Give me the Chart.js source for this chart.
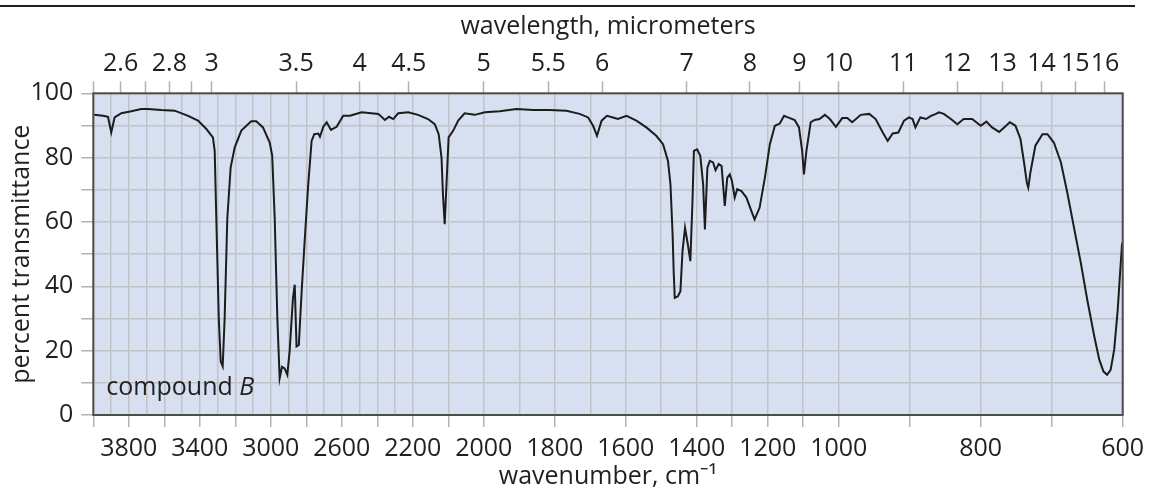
<!DOCTYPE html>
<html>
<head>
<meta charset="utf-8">
<script src="https://cdn.jsdelivr.net/npm/chart.js@4"></script>
<style>
  html, body { margin: 0; padding: 0; background: #ffffff; }
  #wrap { position: relative; width: 1151px; height: 495px; }
</style>
</head>
<body>
<div id="wrap"><canvas id="c" width="1151" height="495"></canvas></div>
<script>
// ---------- data ----------
const wavenumbers = [
  3995, 3945, 3917, 3899, 3880, 3842, 3786, 3730, 3692, 3617, 3541, 3466, 3410, 3363, 3326, 3316,
  3307, 3293, 3282, 3271, 3260, 3245, 3226, 3203, 3166, 3110, 3082, 3044, 3006, 2992, 2978, 2963,
  2950, 2937, 2922, 2907, 2894, 2875, 2865, 2855, 2842, 2826, 2807, 2789, 2770, 2755, 2732, 2723,
  2704, 2685, 2661, 2629, 2592, 2554, 2488, 2394, 2357, 2334, 2310, 2282, 2226, 2185, 2157, 2138,
  2127, 2119, 2115, 2110, 2105, 2099, 2086, 2072, 2054, 2025, 1997, 1955, 1908, 1861, 1814, 1767,
  1730, 1706, 1692, 1681, 1668, 1653, 1636, 1622, 1598, 1570, 1542, 1514, 1495, 1481, 1474, 1468,
  1465, 1462, 1453, 1446, 1440, 1433, 1425, 1418, 1412, 1408, 1399, 1390, 1382, 1377, 1370, 1363,
  1354, 1347, 1338, 1330, 1321, 1314, 1307, 1301, 1293, 1286, 1274, 1260, 1246, 1237, 1223, 1208,
  1194, 1180, 1166, 1154, 1143, 1124, 1112, 1103, 1098, 1091, 1079, 1068, 1054, 1039, 1025, 1008,
  995, 988, 981, 969, 957, 948, 938, 931, 924, 916, 908, 901, 896, 892, 885, 877,
  870, 863, 859, 852, 842, 833, 824, 812, 800, 792, 784, 774, 767, 759, 751, 744,
  739, 735, 733, 730, 723, 713, 706, 697, 687, 678, 669, 659, 650, 640, 633, 627,
  622, 617, 612, 607, 604, 601, 600
];
const transmittance = [
  93.3, 93.0, 92.7, 87.8, 92.5, 93.8, 94.4, 95.1, 95.1, 94.8, 94.6, 93.0, 91.5, 88.9, 86.3, 82.1,
  61.3, 30.0, 16.6, 15.1, 30.0, 61.0, 77.0, 83.2, 88.4, 91.3, 91.3, 89.4, 84.7, 80.6, 61.3, 30.0,
  11.4, 15.0, 14.5, 12.5, 19.7, 36.4, 40.5, 21.3, 21.8, 38.5, 56.0, 71.7, 85.2, 87.3, 87.5, 86.5,
  89.6, 91.0, 88.6, 89.6, 93.0, 93.0, 94.1, 93.6, 91.7, 92.7, 92.0, 93.8, 94.1, 93.3, 92.0, 90.4,
  87.3, 80.0, 68.6, 59.3, 71.7, 86.3, 88.4, 91.5, 93.8, 93.3, 94.1, 94.4, 95.1, 94.8, 94.8, 94.6,
  93.6, 92.5, 89.9, 86.8, 91.5, 93.0, 92.5, 92.0, 93.0, 91.5, 89.4, 86.8, 84.2, 79.0, 71.7, 56.1,
  44.7, 36.4, 36.9, 38.5, 51.0, 58.2, 53.0, 47.8, 66.5, 82.1, 82.6, 80.6, 71.7, 57.7, 76.9, 79.0,
  78.5, 76.1, 78.0, 77.4, 65.0, 73.8, 74.8, 72.8, 67.6, 70.2, 69.6, 67.6, 63.4, 60.8, 64.4, 73.8,
  84.2, 89.9, 90.6, 93.0, 92.5, 91.7, 89.4, 82.1, 74.8, 82.1, 91.0, 91.7, 92.0, 93.3, 92.0, 89.6,
  92.3, 92.3, 91.0, 93.3, 93.6, 92.0, 87.8, 85.2, 87.5, 87.8, 91.5, 92.5, 92.0, 89.4, 92.5, 92.0,
  93.0, 93.6, 94.1, 93.6, 92.0, 90.4, 92.0, 92.0, 89.9, 91.2, 89.4, 88.0, 89.4, 91.0, 89.9, 85.8,
  78.5, 72.2, 70.7, 75.4, 83.7, 87.3, 87.3, 84.7, 78.5, 69.1, 58.7, 47.3, 35.9, 24.4, 17.2, 13.5,
  12.5, 14.0, 20.3, 32.7, 43.1, 53.0, 53.6
];

// bottom axis: grid lines, tick marks and labelled ticks (cm^-1)
const wavenumberGridLines = [
  4000, 3900, 3800, 3700, 3600, 3500, 3400, 3300, 3200, 3100, 3000, 2900, 2800, 2700, 2600, 2500,
  2400, 2300, 2200, 2100, 2000, 1900, 1800, 1700, 1600, 1500, 1400, 1300, 1200, 1100, 1000, 900,
  800, 700, 600
];
const wavenumberTickMarks = [4000, 3800, 3600, 3400, 3200, 3000, 2800, 2600, 2400, 2200, 2100, 2000,
  1800, 1600, 1400, 1300, 1200, 1100, 1000, 900, 800, 700, 600];
const wavenumberTickLabels = [3800, 3400, 3000, 2600, 2200, 2000, 1800, 1600, 1400, 1200, 1000, 800, 600];

// top axis: wavelength in micrometers
const wavelengthTicks = [2.5, 2.6, 2.7, 2.8, 2.9, 3, 3.5, 4, 4.5, 5, 5.5, 6, 7, 8, 9, 10, 11, 12, 13, 14, 15, 16];
const wavelengthTickLabels = ['', '2.6', '', '2.8', '', '3', '3.5', '4', '4.5', '5', '5.5', '6', '7', '8',
  '9', '10', '11', '12', '13', '14', '15', '16'];

// left axis
const transmittanceTicks = [0, 10, 20, 30, 40, 50, 60, 70, 80, 90, 100];
const transmittanceTickLabels = [0, 20, 40, 60, 80, 100];

// ---------- IR wavenumber scale (expanded below 2200 and 1000 cm^-1) ----------
const SEGMENTS = [[4000, 2200, 1], [2200, 1000, 2], [1000, 600, 4]];
function wnToUnits(v) {
  let u = 0;
  for (const [hi, lo, w] of SEGMENTS) {
    const a = Math.min(hi, Math.max(lo, v));
    u += (hi - a) * w;
  }
  return u;
}
const TOTAL_UNITS = wnToUnits(600);
function unitsToWn(u) {
  for (const [hi, lo, w] of SEGMENTS) {
    const span = (hi - lo) * w;
    if (u <= span) return hi - u / w;
    u -= span;
  }
  return 600;
}

class IRWavenumberScale extends Chart.LinearScale {
  getPixelForValue(value) {
    if (value === null || value === undefined || isNaN(value)) return NaN;
    return this.getPixelForDecimal(wnToUnits(value) / TOTAL_UNITS);
  }
  getValueForPixel(pixel) {
    return unitsToWn(this.getDecimalForPixel(pixel) * TOTAL_UNITS);
  }
}
IRWavenumberScale.id = 'irWavenumber';
IRWavenumberScale.defaults = {};
Chart.register(IRWavenumberScale);

// ---------- styling ----------
const FONT = '"Open Sans", "Noto Sans", sans-serif';
const TEXT = '#231f20';
const GRID = '#c2c3c9';
const TICK = '#b3b3b3';
Chart.defaults.font.family = FONT;
Chart.defaults.font.size = 25;
Chart.defaults.color = TEXT;

const framePlugin = {
  id: 'frame',
  beforeDraw(chart) {
    const { ctx, chartArea: a } = chart;
    ctx.save();
    ctx.fillStyle = '#d6e0f0';
    ctx.fillRect(a.left, a.top, a.right - a.left, a.bottom - a.top);
    ctx.restore();
  },
  afterDraw(chart) {
    const { ctx, chartArea: a } = chart;
    ctx.save();
    ctx.strokeStyle = '#4d4d4d';
    ctx.lineWidth = 2;
    ctx.strokeRect(a.left, a.top, a.right - a.left, a.bottom - a.top);
    ctx.strokeStyle = '#1e1e1e';
    ctx.lineWidth = 2;
    ctx.beginPath();
    ctx.moveTo(0, 6);
    ctx.lineTo(1135, 6);
    ctx.stroke();
    ctx.fillStyle = TEXT;
    ctx.textBaseline = 'alphabetic';
    ctx.textAlign = 'left';
    ctx.font = '25px ' + FONT;
    const t1 = 'compound ';
    const x0 = a.left + 13, y0 = a.bottom - 20;
    ctx.fillText(t1, x0, y0);
    const w = ctx.measureText(t1).width;
    ctx.font = 'italic 25px ' + FONT;
    ctx.fillText('B', x0 + w, y0);
    ctx.restore();
  }
};

const points = wavenumbers.map((wn, i) => ({ x: wn, y: transmittance[i] }));

new Chart(document.getElementById('c'), {
  type: 'line',
  data: {
    datasets: [{
      data: points,
      xAxisID: 'x',
      yAxisID: 'y',
      borderColor: '#1c1c1c',
      borderWidth: 2,
      pointRadius: 0,
      tension: 0,
      fill: false
    }]
  },
  options: {
    responsive: false,
    animation: false,
    devicePixelRatio: 1,
    layout: { padding: { left: 0, right: 28.3, top: 0, bottom: 0 } },
    plugins: { legend: { display: false }, tooltip: { enabled: false } },
    scales: {
      x: {
        type: 'irWavenumber',
        position: 'bottom',
        min: 600, max: 4000,
        afterBuildTicks: s => { s.ticks = wavenumberGridLines.map(v => ({ value: v })); },
        afterFit: s => { s.height = 80; },
        grid: {
          color: GRID, lineWidth: 1.5, drawOnChartArea: true, drawTicks: true, tickLength: 12,
          tickWidth: 1.5,
          tickColor: c => (c.tick && wavenumberTickMarks.includes(c.tick.value)) ? TICK : 'rgba(0,0,0,0)'
        },
        border: { display: false },
        ticks: {
          autoSkip: false, maxRotation: 0, minRotation: 0, padding: 6.5, color: TEXT,
          callback: v => wavenumberTickLabels.includes(v) ? String(v) : ''
        },
        title: { display: true, text: 'wavenumber, cm\u207B\u00B9', color: TEXT, padding: { top: 0, bottom: 3 } }
      },
      xTop: {
        type: 'irWavenumber',
        axis: 'x',
        position: 'top',
        min: 600, max: 4000,
        afterBuildTicks: s => { s.ticks = wavelengthTicks.map(l => ({ value: 10000 / l })); },
        afterFit: s => { s.height = 93.3; },
        grid: { drawOnChartArea: false, drawTicks: true, tickLength: 12, tickWidth: 1.5, tickColor: TICK, color: TICK },
        border: { display: false },
        ticks: {
          autoSkip: false, maxRotation: 0, minRotation: 0, padding: 2, color: TEXT,
          callback: (v, i) => wavelengthTickLabels[i]
        },
        title: { display: true, text: 'wavelength, micrometers', color: TEXT, padding: { top: 12, bottom: 0 } }
      },
      y: {
        type: 'linear',
        position: 'left',
        min: 0, max: 100,
        afterBuildTicks: s => { s.ticks = transmittanceTicks.map(v => ({ value: v })); },
        afterFit: s => { s.width = 93.3; },
        grid: { color: GRID, lineWidth: 1.5, drawTicks: true, tickLength: 12, tickWidth: 1.5, tickColor: TICK },
        border: { display: false },
        ticks: {
          autoSkip: false, padding: 8, color: TEXT,
          callback: v => transmittanceTickLabels.includes(v) ? String(v) : ''
        },
        title: { display: true, text: 'percent transmittance', color: TEXT, padding: { top: 7, bottom: 0 } }
      }
    }
  },
  plugins: [framePlugin]
});
</script>
</body>
</html>
